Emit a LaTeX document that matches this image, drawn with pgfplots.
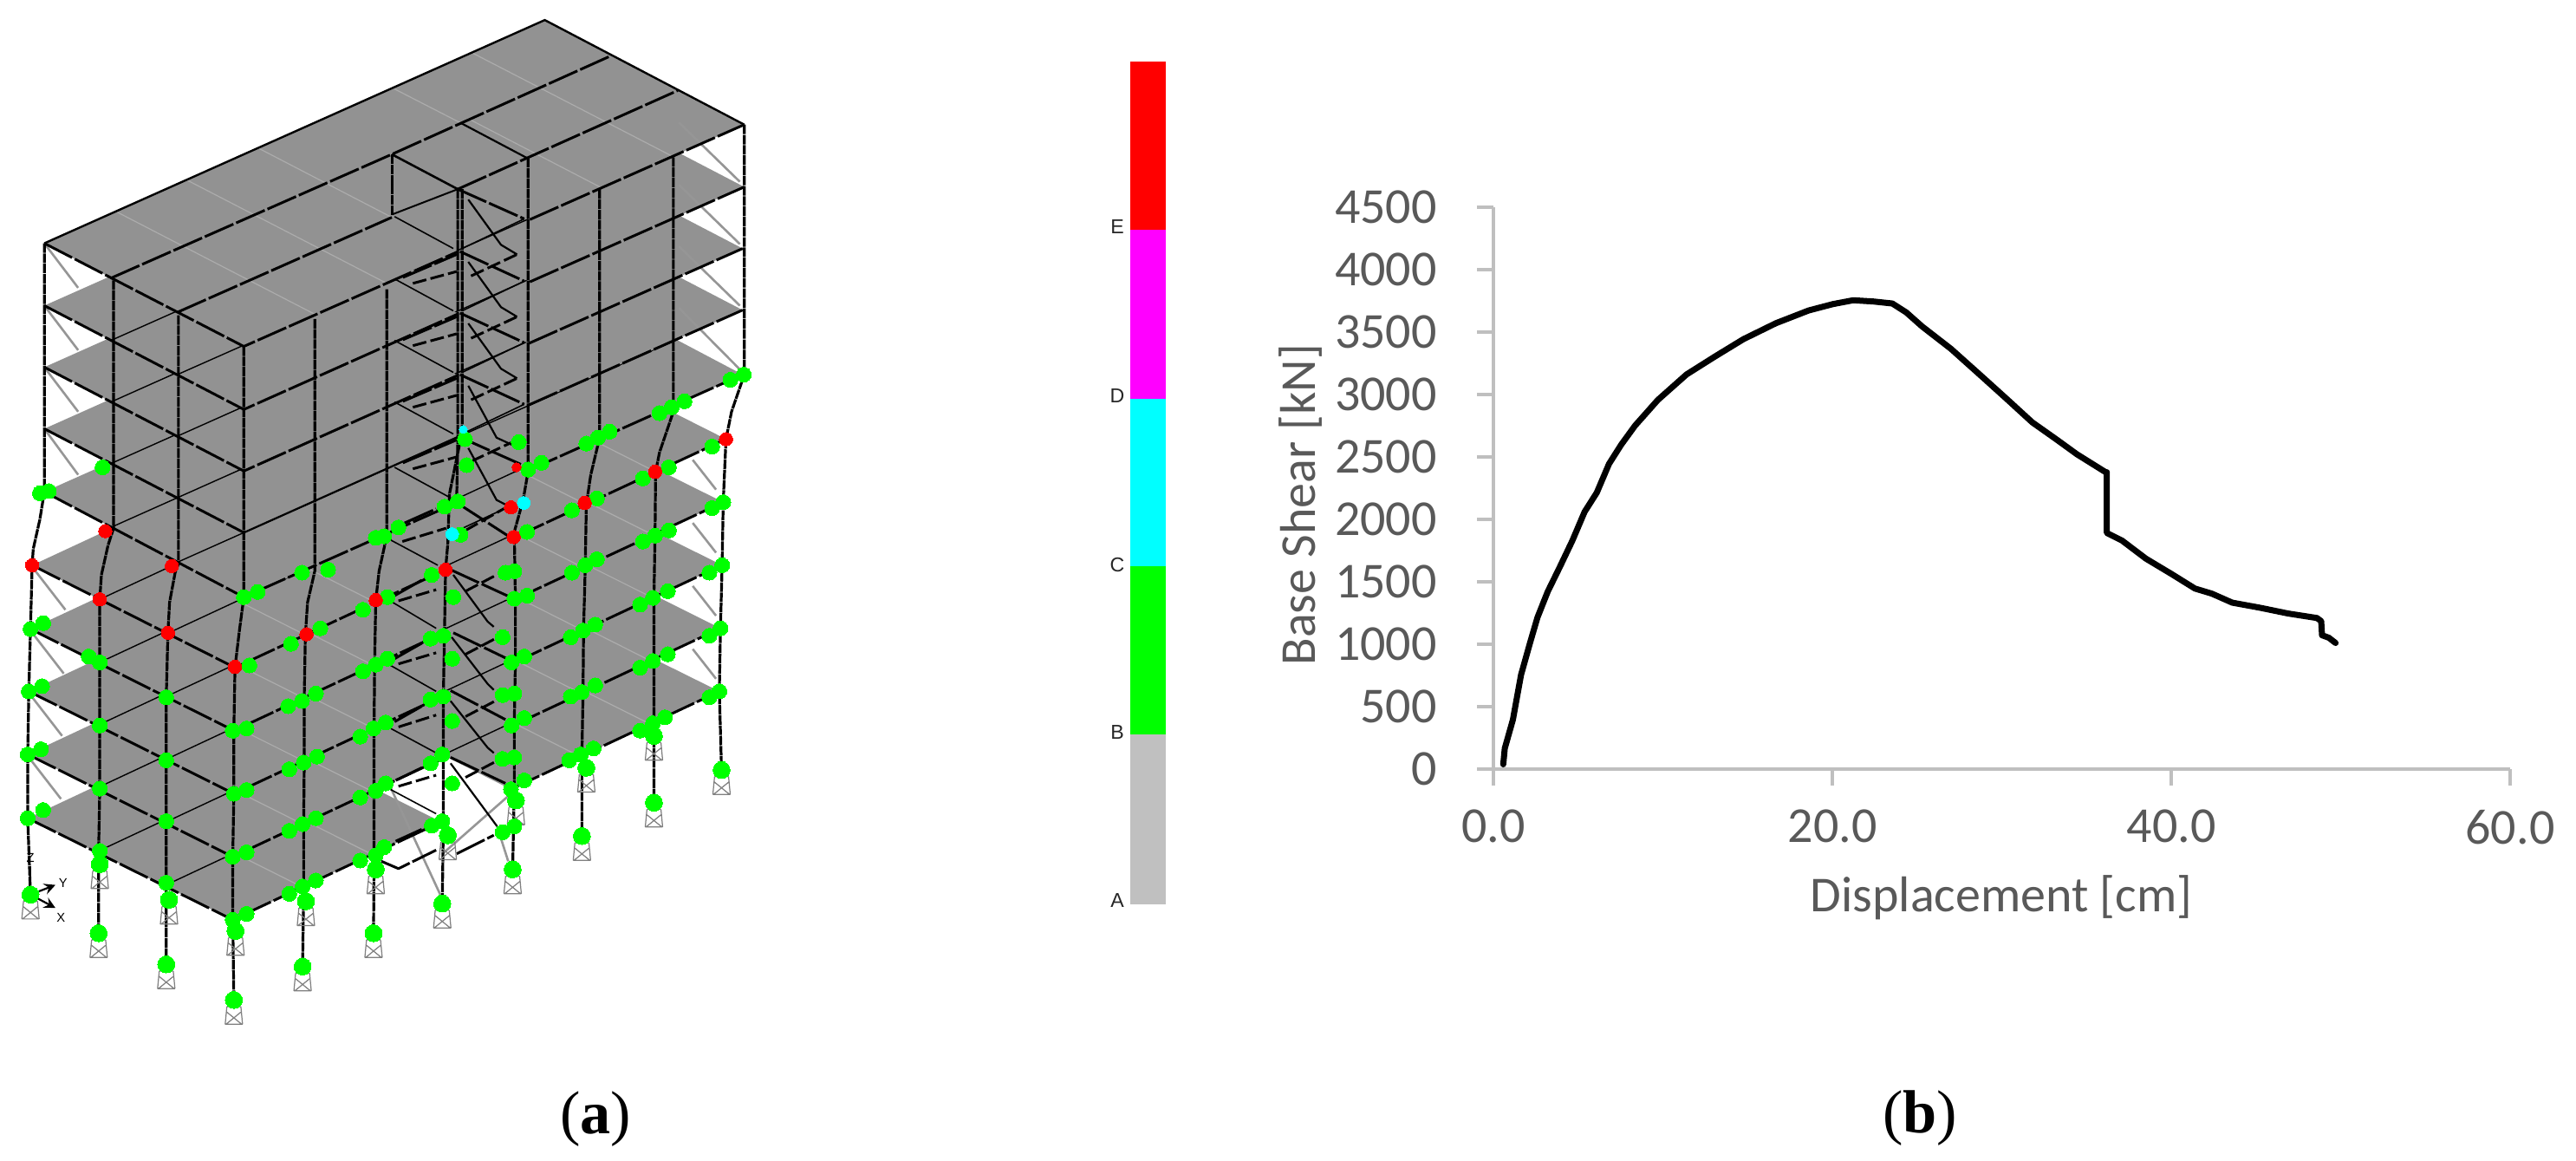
\documentclass[border=0pt]{standalone}
\usepackage{fontspec}
\usepackage{pgfplots}
\pgfplotsset{compat=1.18}
\setmainfont{Liberation Serif}
\newfontfamily\chartfont{Carlito}
\newfontfamily\sapfont{Liberation Sans}
\definecolor{slab}{RGB}{146,146,146}
\definecolor{thin}{RGB}{104,104,104}
\definecolor{faint}{RGB}{172,172,172}
\definecolor{brace}{RGB}{150,150,150}
\definecolor{axgray}{RGB}{191,191,191}
\definecolor{txtgray}{RGB}{89,89,89}
\definecolor{hgreen}{RGB}{0,255,0}
\definecolor{hred}{RGB}{255,0,0}
\definecolor{hcyan}{RGB}{0,255,255}
\definecolor{barm}{RGB}{255,0,255}
\definecolor{barg}{RGB}{192,192,192}
\pgfdeclareplotmark{support}{%
  \pgfpathmoveto{\pgfqpoint{-2.3pt}{-2.2pt}}\pgfpathlineto{\pgfqpoint{2.3pt}{-2.2pt}}%
  \pgfpathmoveto{\pgfqpoint{-2.85pt}{-8pt}}\pgfpathlineto{\pgfqpoint{2.85pt}{-8pt}}%
  \pgfpathmoveto{\pgfqpoint{-2.3pt}{-2.2pt}}\pgfpathlineto{\pgfqpoint{-2.85pt}{-8pt}}%
  \pgfpathmoveto{\pgfqpoint{2.3pt}{-2.2pt}}\pgfpathlineto{\pgfqpoint{2.85pt}{-8pt}}%
  \pgfpathmoveto{\pgfqpoint{-2.3pt}{-4pt}}\pgfpathlineto{\pgfqpoint{2.6pt}{-8pt}}%
  \pgfpathmoveto{\pgfqpoint{2.3pt}{-4pt}}\pgfpathlineto{\pgfqpoint{-2.6pt}{-8pt}}%
  \pgfusepathqstroke}
\tikzset{
  sl/.style={fill=slab,draw=none},
  tn/.style={thin,line width=0.14mm},
  fa/.style={faint,line width=0.12mm},
  br/.style={brace,line width=0.26mm},
  bm/.style={black,line width=0.3mm,dash pattern=on 3.6mm off 0.35mm,line join=round},
  bs/.style={black,line width=0.22mm},
  cl/.style={black,line width=0.32mm,dash pattern=on 1.1mm off 0.08mm,line join=round},
  hg/.style={only marks,mark=*,mark size=2.45pt,mark options={fill=hgreen,draw=hgreen,line width=0pt}},
  hr/.style={only marks,mark=*,mark size=2.2pt,mark options={fill=hred,draw=hred,line width=0pt}},
  hc/.style={only marks,mark=*,mark size=2.1pt,mark options={fill=hcyan,draw=hcyan,line width=0pt}},
}
\begin{document}
\begin{tikzpicture}
% ---------- panel (a): coordinates 0..1564 on both sides
\begin{axis}[at={(0mm,0mm)},anchor=south west,scale only axis,width=100mm,height=133.8mm,
  xmin=0,xmax=1564,ymin=0,ymax=1564,y dir=reverse,hide axis,clip=true,unbounded coords=jump]
\addplot[fill=white,draw=none] coordinates {(0,0)(1564,0)(1564,1564)(0,1564)} -- cycle;
% slabs, lowest first, each with its thin lines
\addplot[sl] coordinates {(50,1103)(928,795)(1298,932)(922,1064)(799,1018)(673,1062)(796,1108)(420,1240)} -- cycle;
\addplot[tn] coordinates {(297,1194)(1175,886)(nan,nan)(173,1149)(1052,841)};
\addplot[fa] coordinates {(546,1196)(423,1150)(nan,nan)(672,1152)(549,1106)(nan,nan)(1047,1020)(925,974)(nan,nan)(1173,976)(1050,930)};
\addplot[sl] coordinates {(50,1017)(930,709)(1300,847)(923,979)(800,933)(674,977)(797,1023)(420,1155)} -- cycle;
\addplot[tn] coordinates {(297,1109)(1177,801)(nan,nan)(173,1063)(1053,755)};
\addplot[fa] coordinates {(546,1111)(423,1065)(nan,nan)(672,1067)(549,1021)(nan,nan)(1049,935)(927,889)(nan,nan)(1174,891)(1052,845)};
\addplot[sl] coordinates {(52,932)(933,624)(1303,762)(926,894)(803,848)(677,892)(800,938)(422,1070)} -- cycle;
\addplot[tn] coordinates {(299,1024)(1180,716)(nan,nan)(176,978)(1057,670)};
\addplot[fa] coordinates {(548,1026)(425,980)(nan,nan)(674,982)(551,936)(nan,nan)(1052,850)(930,804)(nan,nan)(1178,806)(1055,760)};
\addplot[sl] coordinates {(55,848)(938,540)(1305,677)(926,809)(804,763)(678,807)(800,853)(422,985)} -- cycle;
\addplot[tn] coordinates {(300,939)(1183,631)(nan,nan)(177,894)(1060,586)};
\addplot[fa] coordinates {(548,941)(425,895)(nan,nan)(674,897)(551,851)(nan,nan)(1052,765)(930,719)(nan,nan)(1178,721)(1055,675)};
\addplot[sl] coordinates {(58,762)(944,454)(1310,592)(930,724)(808,678)(682,722)(804,768)(424,900)} -- cycle;
\addplot[tn] coordinates {(302,854)(1188,546)(nan,nan)(180,808)(1066,500)};
\addplot[fa] coordinates {(551,856)(429,810)(nan,nan)(677,812)(555,766)(nan,nan)(1057,680)(935,634)(nan,nan)(1183,636)(1061,590)};
\addplot[sl] coordinates {(80,663)(980,363)(1340,505)(954,634)(834,587)(706,630)(826,677)(440,805)} -- cycle;
\addplot[tn] coordinates {(320,758)(1220,458)(nan,nan)(200,711)(1100,411)};
\addplot[sl] coordinates {(80,578)(980,278)(1340,418)(954,546)(834,499)(706,542)(826,589)(440,718)} -- cycle;
\addplot[tn] coordinates {(320,671)(1220,371)(nan,nan)(200,625)(1100,325)};
\addplot[sl] coordinates {(80,495)(980,195)(1340,335)(954,463)(834,416)(706,459)(826,506)(440,635)} -- cycle;
\addplot[tn] coordinates {(320,588)(1220,288)(nan,nan)(200,542)(1100,242)};
\addplot[sl] coordinates {(80,412)(983,112)(1343,252)(956,380)(836,334)(707,376)(827,423)(440,552)} -- cycle;
\addplot[tn] coordinates {(320,505)(1223,206)(nan,nan)(200,459)(1103,159)};
\addplot[sl] coordinates {(80,328)(983,27)(1343,168)(956,296)(836,250)(707,293)(827,339)(440,467)} -- cycle;
\addplot[fa] coordinates {(569,424)(209,285)(nan,nan)(698,382)(338,243)(nan,nan)(707,293)(467,200)(nan,nan)(832,166)(712,120)(nan,nan)(1085,253)(845,160)(nan,nan)(1214,211)(854,72)};
% gray braces on the outer faces
\addplot[br] coordinates {(83,331)(141,388)(nan,nan)(83,415)(141,472)(nan,nan)(83,498)(141,555)(nan,nan)(83,581)(141,640)(nan,nan)(60,766)(118,822)(nan,nan)(57,852)(115,908)(nan,nan)(54,936)(112,992)(nan,nan)(52,1021)(110,1077)};
\addplot[br] coordinates {(1225,165)(1335,245)(nan,nan)(1225,249)(1335,329)(nan,nan)(1225,332)(1335,412)(nan,nan)(1225,415)(1335,498)};
\addplot[br] coordinates {(1250,620)(1292,660)(nan,nan)(1250,705)(1292,745)(nan,nan)(1250,790)(1292,830)(nan,nan)(1250,875)(1292,915)};
\addplot[br] coordinates {(705,1062)(800,1215)(nan,nan)(800,1150)(925,1068)(nan,nan)(897,1114)(917,1161)};
% supports
\addplot[only marks,mark=support,mark options={draw=gray,line width=0.35pt}] coordinates {
(55,1206)(178,1258)(300,1300)(422,1348)(546,1303)(674,1258)(798,1218)(925,1172)(1050,1127)(1180,1082)(1302,1038)
(180,1165)(305,1213)(425,1255)(552,1215)(678,1172)(808,1126)(931,1079)(1058,1035)(1180,992)};
% stair flights and landings
\addplot[bs] coordinates {(845,269)(904,330)(933,343)(nan,nan)(845,353)(904,414)(933,427)(nan,nan)(845,436)(904,497)(933,510)(nan,nan)(845,520)(896,590)(925,600)(nan,nan)(845,604)(896,674)(922,684)};
\addplot[bs] coordinates {(818,775)(880,838)(891,845)(nan,nan)(815,859)(880,922)(891,930)(nan,nan)(813,945)(880,1008)(891,1015)(nan,nan)(813,1029)(897,1114)};
\addplot[bm,dash pattern=on 1.6mm off 0.5mm] coordinates {(745,382)(824,366)(nan,nan)(850,372)(933,343)(nan,nan)(745,466)(824,450)(nan,nan)(850,456)(933,427)(nan,nan)(745,549)(824,533)(nan,nan)(850,539)(933,510)(nan,nan)(745,632)(824,616)(nan,nan)(850,622)(933,593)(nan,nan)(726,730)(805,712)(nan,nan)(840,715)(918,682)(nan,nan)(719,810)(787,795)(nan,nan)(840,797)(896,775)(nan,nan)(719,895)(787,880)(nan,nan)(840,882)(896,860)(nan,nan)(719,980)(787,964)(nan,nan)(840,966)(896,944)(nan,nan)(719,1060)(787,1045)(nan,nan)(840,1048)(896,1026)};
\addplot[bm] coordinates {(688,1161)(719,1171)(787,1146)(nan,nan)(824,1151)(891,1126)};
\addplot[bs,line width=0.16mm] coordinates {(712,292)(818,335)(nan,nan)(712,376)(818,419)(nan,nan)(712,459)(818,502)(nan,nan)(712,542)(818,585)(nan,nan)(712,630)(815,672)(nan,nan)(690,722)(790,762)(nan,nan)(704,810)(787,847)(nan,nan)(700,895)(787,932)(nan,nan)(700,980)(787,1015)(nan,nan)(704,1064)(787,1097)};
\addplot[bm] coordinates {(826,255)(946,295)(nan,nan)(830,339)(946,379)(nan,nan)(830,422)(946,462)(nan,nan)(830,505)(946,545)(nan,nan)(832,590)(946,628)(nan,nan)(829,680)(918,723)(nan,nan)(813,768)(918,804)(nan,nan)(818,853)(915,888)(nan,nan)(813,931)(912,970)(nan,nan)(813,1021)(912,1056)};
\addplot[bm] coordinates {(727,374)(824,343)(nan,nan)(727,458)(824,427)(nan,nan)(727,541)(824,510)(nan,nan)(727,624)(824,593)(nan,nan)(730,705)(787,686)(nan,nan)(712,803)(766,780)(nan,nan)(712,888)(766,865)(nan,nan)(712,973)(766,950)(nan,nan)(714,1052)(761,1035)(nan,nan)(714,1134)(761,1118)};
% roof lines
\addplot[thin,line width=0.24mm] coordinates {(80,328)(983,27)(1343,168)};
\addplot[bm] coordinates {(200,375)(707,208)(832,166)(1103,75)};
\addplot[bm] coordinates {(320,421)(707,293)};
\addplot[thin,line width=0.2mm] coordinates {(708,289)(826,255)};
\addplot[bm] coordinates {(826,255)(951,213)(1223,122)};
\addplot[bs,line width=0.26mm] coordinates {(707,208)(826,255)};
\addplot[bs] coordinates {(832,166)(951,213)};
% side and front beams, roof down
\addplot[bm] coordinates {(80,328)(440,467)(827,339)(nan,nan)(956,296)(1343,168)};
\addplot[bm] coordinates {(80,412)(440,552)(827,423)(nan,nan)(956,380)(1343,252)};
\addplot[bm] coordinates {(80,495)(440,635)(826,506)(nan,nan)(954,463)(1340,335)};
\addplot[bm] coordinates {(80,578)(440,718)(nan,nan)(954,546)(1340,418)};
\addplot[thin,line width=0.22mm] coordinates {(440,718)(826,589)};
\addplot[bm] coordinates {(80,663)(440,805)(826,677)(nan,nan)(954,634)(1340,505)};
\addplot[bm] coordinates {(58,762)(424,900)(804,768)(nan,nan)(930,724)(1310,592)};
\addplot[bm] coordinates {(55,848)(422,985)(800,853)(nan,nan)(926,809)(1305,677)};
\addplot[bm] coordinates {(52,932)(422,1070)(800,938)(nan,nan)(926,894)(1303,762)};
\addplot[bm] coordinates {(50,1017)(420,1155)(797,1023)(nan,nan)(923,979)(1300,847)};
\addplot[bm] coordinates {(50,1103)(420,1240)(796,1108)(nan,nan)(922,1064)(1298,932)};
\addplot[thin,line width=0.16mm] coordinates {(834,335)(946,295)(nan,nan)(834,419)(946,379)(nan,nan)(834,502)(946,462)(nan,nan)(834,585)(946,545)(nan,nan)(812,720)(927,680)};
% columns
\addplot[cl] coordinates {(80,328)(80,663)(72,700)(60,740)(58,762)(55,848)(52,932)(50,1017)(50,1103)(55,1206)};
\addplot[cl] coordinates {(205,378)(205,712)(195,735)(183,775)(180,808)(180,893)(180,978)(180,1063)(178,1147)(178,1258)};
\addplot[cl] coordinates {(322,425)(322,760)(316,772)(306,812)(303,853)(300,940)(300,1025)(300,1107)(300,1190)(300,1300)};
\addplot[cl] coordinates {(440,467)(440,805)(432,850)(424,900)(422,985)(422,1070)(420,1155)(420,1240)(422,1350)};
\addplot[cl] coordinates {(568,430)(568,770)(555,812)(551,856)(549,940)(549,1025)(548,1110)(548,1195)(546,1305)};
\addplot[cl] coordinates {(698,390)(698,722)(684,770)(678,810)(676,895)(675,980)(675,1070)(675,1155)(674,1260)};
\addplot[cl] coordinates {(708,208)(708,290)};
\addplot[cl] coordinates {(826,255)(826,596)(824,676)};
\addplot[cl] coordinates {(834,255)(834,596)(829,600)(811,666)(808,733)(804,768)(802,855)(800,940)(800,1025)(800,1110)(798,1220)};
\addplot[cl] coordinates {(953,213)(953,635)(944,674)(928,717)(930,810)(930,890)(928,975)(928,1060)(925,1175)};
\addplot[cl] coordinates {(1082,255)(1082,590)(1066,640)(1058,680)(1056,765)(1053,850)(1052,935)(1050,1020)(1050,1130)};
\addplot[cl] coordinates {(1215,212)(1215,555)(1190,610)(1183,636)(1182,720)(1180,805)(1180,890)(1180,975)(1180,1082)};
\addplot[cl] coordinates {(1343,168)(1343,505)(1320,555)(1310,592)(1305,677)(1303,762)(1300,847)(1298,932)(1302,1040)};
% hinges
\addplot[hg] coordinates {
(72,665)(88,662)(185,630)(440,805)(465,798)(545,772)(592,768)(678,725)(693,723)(719,711)(802,683)(826,676)(953,633)(977,624)(1058,598)(1079,590)(1100,582)(1190,557)(1212,549)(1235,541)(1318,512)(1342,505)(839,592)(936,596)(842,627)
(450,897)(525,868)(578,847)(655,822)(699,805)(779,775)(831,721)(912,772)(928,770)(951,717)(1032,688)(1077,672)(1160,645)(1207,630)(1285,602)(818,805)
(420,985)(445,982)(520,952)(545,945)(570,935)(655,905)(678,896)(699,888)(777,861)(800,857)(907,859)(928,807)(951,803)(1032,772)(1056,762)(1077,754)(1160,730)(1182,722)(1207,715)(1285,685)(1305,677)(816,888)
(422,1070)(445,1065)(522,1037)(548,1028)(572,1020)(650,993)(674,982)(696,974)(777,943)(800,939)(907,937)(928,935)(923,893)(946,885)(1030,859)(1052,850)(1074,842)(1155,815)(1178,806)(1205,797)(1280,772)(1303,762)(816,972)
(420,1155)(445,1149)(522,1120)(546,1111)(570,1103)(650,1075)(678,1066)(696,1056)(777,1029)(798,1017)(907,1023)(928,1021)(923,978)(946,968)(1030,939)(1050,933)(1074,924)(1155,900)(1178,891)(1205,882)(1280,857)(1300,847)(816,1056)
(420,1240)(445,1232)(522,1205)(546,1195)(570,1187)(650,1160)(678,1153)(693,1142)(779,1113)(798,1107)(907,1122)(928,1114)(922,1064)(946,1052)(1027,1025)(1048,1017)(1071,1009)(1155,985)(1178,975)(1200,967)(1280,940)(1298,932)
(55,848)(78,840)(160,885)(180,893)(300,940)(52,932)(76,925)(180,978)(300,1025)(50,1017)(74,1010)(180,1063)(300,1107)(50,1103)(78,1092)(180,1147)(300,1190)};
\addplot[hg,mark size=2.8pt] coordinates {
(55,1206)(178,1258)(300,1300)(422,1348)(546,1303)(674,1258)(798,1218)(925,1172)(1050,1127)(1180,1082)(1302,1038)
(180,1165)(305,1213)(425,1255)(552,1215)(678,1172)(808,1126)(931,1079)(1058,1035)(1180,992)};
\addplot[hr] coordinates {(58,762)(190,716)(310,763)(180,808)(303,853)(424,899)(553,855)(678,809)(804,768)(927,724)(922,684)(1055,678)(1182,636)(1310,592)};
\addplot[hr,mark size=1.5pt] coordinates {(932,630)};
\addplot[hc] coordinates {(945,678)(816,720)};
\addplot[hc,mark size=1.3pt] coordinates {(836,579)};
% coordinate triad
\addplot[black,line width=0.22mm,-stealth] coordinates {(55,1206)(100,1193)};
\addplot[black,line width=0.22mm,-stealth] coordinates {(55,1206)(100,1224)};
\addplot[black,line width=0.22mm] coordinates {(55,1206)(55,1168)};
\node[font=\sapfont\fontsize{4.2pt}{5pt}\selectfont] at (axis cs:114,1190) {Y};
\node[font=\sapfont\fontsize{4.2pt}{5pt}\selectfont] at (axis cs:110,1237) {X};
\node[font=\sapfont\fontsize{4.2pt}{5pt}\selectfont] at (axis cs:55,1157) {Z};
\node[font=\fontsize{20pt}{24pt}\selectfont] at (axis cs:1075,1508) {(\textbf{a})};
\end{axis}
% ---------- colour scale and caption (b): reference pixels
\begin{axis}[at={(100mm,0mm)},anchor=south west,scale only axis,width=197.2mm,height=133.8mm,
  xmin=1000,xmax=2972,ymin=0,ymax=1338,y dir=reverse,hide axis,clip=true]
\addplot[fill=white,draw=none] coordinates {(1000,0)(2972,0)(2972,1338)(1000,1338)} -- cycle;
\addplot[fill=hred,draw=none] coordinates {(1304,71)(1345,71)(1345,265)(1304,265)} -- cycle;
\addplot[fill=barm,draw=none] coordinates {(1304,265)(1345,265)(1345,460)(1304,460)} -- cycle;
\addplot[fill=hcyan,draw=none] coordinates {(1304,460)(1345,460)(1345,653)(1304,653)} -- cycle;
\addplot[fill=hgreen,draw=none] coordinates {(1304,653)(1345,653)(1345,847)(1304,847)} -- cycle;
\addplot[fill=barg,draw=none] coordinates {(1304,847)(1345,847)(1345,1043)(1304,1043)} -- cycle;
\foreach \lab/\yy in {E/262,D/457,C/651,B/844,A/1038}{
  \edef\tmp{\noexpand\node[font=\noexpand\sapfont\noexpand\fontsize{6.6pt}{8pt}\noexpand\selectfont,text=black!85] at (axis cs:1289,\yy) {\lab};}\tmp}
\node[font=\fontsize{20pt}{24pt}\selectfont] at (axis cs:2215,1290) {(\textbf{b})};
\end{axis}
% ---------- panel (b)
\begin{axis}[at={(172.3mm,45.13mm)},anchor=origin,scale only axis,width=117.3mm,height=64.8mm,
  xmin=0,xmax=60,ymin=0,ymax=4500,
  axis lines=left,axis line style={axgray,line width=0.4mm,-},
  every tick/.style={axgray,line width=0.4mm},tick align=outside,tick pos=left,
  major tick length=1.9mm,
  xtick={0,20,40,60},ytick={0,500,1000,1500,2000,2500,3000,3500,4000,4500},
  /pgf/number format/assume math mode=true,
  tick label style={font=\chartfont\fontsize{16.5pt}{20pt}\selectfont,text=txtgray},
  xticklabel style={/pgf/number format/fixed,/pgf/number format/fixed zerofill,/pgf/number format/precision=1,yshift=-1.6mm},
  yticklabel style={/pgf/number format/fixed,/pgf/number format/1000 sep={},xshift=-3.4mm},
  xlabel={Displacement [cm]},ylabel={Base Shear [kN]},
  every axis x label/.style={at={(axis description cs:0.4996,-0.2288)},anchor=center,font=\chartfont\fontsize{16.5pt}{20pt}\selectfont,text=txtgray},
  every axis y label/.style={at={(axis description cs:-0.190,0.470)},anchor=center,rotate=90,font=\chartfont\fontsize{16.5pt}{20pt}\selectfont,text=txtgray},
  clip=false]
\addplot[black,line width=0.7mm,line join=round,line cap=round] coordinates {
(0.58,36)(0.67,164)(1.15,394)(1.63,753)(2.16,1009)(2.6,1213)(3.2,1418)(3.94,1623)(4.66,1828)(5.38,2058)(6.1,2212)(6.82,2442)(7.54,2596)(8.36,2749)(9.7,2954)(11.4,3159)(13.07,3302)(14.75,3441)(16.67,3569)(18.6,3671)(20.03,3722)(21.23,3753)(22.43,3743)(23.54,3727)(24.36,3656)(25.3,3543)(27,3364)(28.9,3133)(30.36,2954)(31.8,2775)(33.24,2637)(34.44,2519)(36.13,2376)(36.2,2376)(36.2,1889)(37.1,1828)(38.5,1684)(40,1562)(41.4,1444)(42.4,1403)(43.6,1331)(45.25,1290)(46.9,1244)(48.6,1208)(48.85,1183)(48.9,1070)(49.3,1050)(49.7,1008)};
\end{axis}
\end{tikzpicture}
\end{document}
